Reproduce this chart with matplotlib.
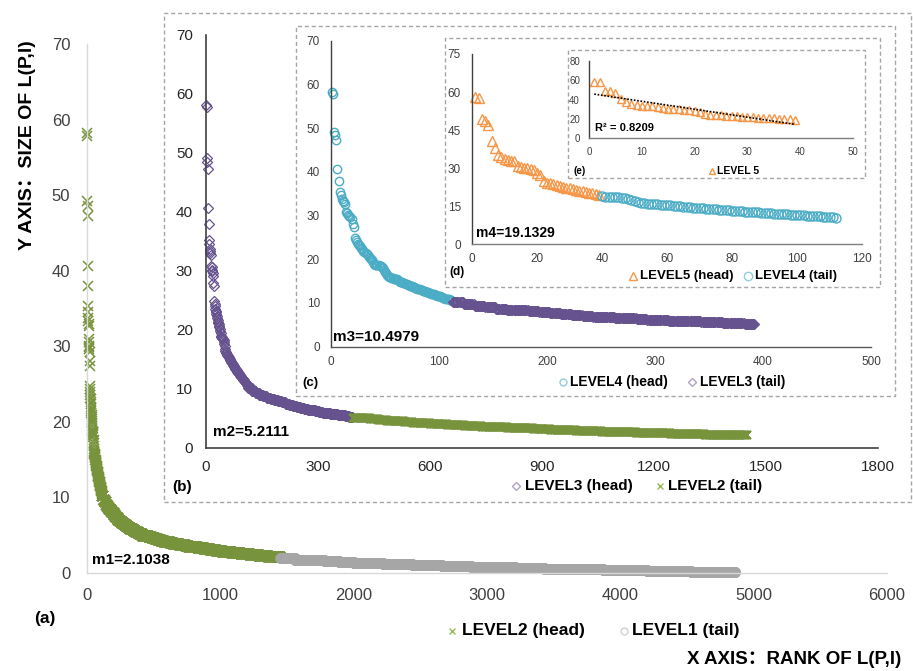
import numpy as np
import matplotlib
matplotlib.use("Agg")
import matplotlib.pyplot as plt
from matplotlib.patches import Rectangle
from matplotlib.lines import Line2D

plt.rcParams['font.family'] = ['Liberation Sans', 'Noto Sans CJK SC', 'DejaVu Sans']

# ---- data: sizes of L(P,l) in rank order ----
# ranks 1-39 (level 5 head), one value per rank
level5_head = [58.2, 57.8, 49.2, 48.5, 47.2, 40.6, 38.0, 35.3, 34.6, 33.7,
               33.3, 33.0, 32.7, 30.9, 30.6, 30.1, 29.9, 29.6, 29.2, 28.0,
               27.4, 24.8, 24.3, 24.0, 23.6, 23.2, 23.0, 22.6, 22.3, 22.0,
               21.7, 21.4, 21.2, 20.9, 20.6, 20.4, 20.1, 19.8, 19.4]
# ranks 40-112 (level 4 tail), one value per rank
level4_tail = [19.0, 18.8, 18.7, 18.6, 18.6, 18.5, 18.4, 18.3, 18.0, 17.6,
               17.2, 16.8, 16.4, 16.2, 16.0, 15.9, 15.8, 15.7, 15.6, 15.6,
               15.5, 15.4, 15.2, 15.0, 14.9, 14.8, 14.7, 14.6, 14.5, 14.4,
               14.3, 14.2, 14.1, 14.0, 13.9, 13.8, 13.7, 13.6, 13.5, 13.4,
               13.3, 13.2, 13.1, 13.0, 12.9, 12.8, 12.7, 12.7, 12.6, 12.5,
               12.4, 12.3, 12.2, 12.1, 12.0, 12.0, 11.9, 11.8, 11.7, 11.6,
               11.5, 11.5, 11.4, 11.3, 11.2, 11.1, 11.0, 11.0, 10.9, 10.8,
               10.7, 10.6, 10.5]
# ranks 113-392 (level 3 tail), one value per block of 10 ranks
level3_block = 10
level3_tail = [10.15, 9.7, 9.35, 9.0, 8.7, 8.45, 8.3, 8.1, 7.95, 7.7,
               7.45, 7.25, 7.05, 6.9, 6.75, 6.6, 6.47, 6.35, 6.22, 6.1,
               5.97, 5.87, 5.77, 5.67, 5.57, 5.47, 5.36, 5.25]
# ranks 393-1450 (level 2 tail), one value per block of 23 ranks
level2_block = 23
level2_tail = [5.11, 4.96, 4.83, 4.71, 4.58, 4.46, 4.34, 4.23, 4.13, 4.04,
               3.95, 3.87, 3.79, 3.71, 3.64, 3.57, 3.50, 3.44, 3.38, 3.32,
               3.27, 3.20, 3.14, 3.07, 3.01, 2.95, 2.90, 2.84, 2.78, 2.73,
               2.68, 2.64, 2.60, 2.55, 2.51, 2.47, 2.43, 2.38, 2.34, 2.30,
               2.26, 2.22, 2.18, 2.15, 2.11, 2.07]
# ranks 1451-4860 (level 1 tail), one value per block of 110 ranks
level1_block = 110
level1_tail = [1.96, 1.78, 1.66, 1.56, 1.45, 1.36, 1.29, 1.22, 1.15, 1.08,
               1.01, 0.95, 0.89, 0.83, 0.78, 0.73, 0.68, 0.63, 0.59, 0.55,
               0.51, 0.47, 0.43, 0.39, 0.34, 0.30, 0.25, 0.21, 0.18, 0.15,
               0.12]

means = {'a': 'm1=2.1038', 'b': 'm2=5.2111', 'c': 'm3=10.4979', 'd': 'm4=19.1329'}
r2_text = 'R² = 0.8209'

sizes = np.concatenate([
    level5_head, level4_tail,
    np.repeat(level3_tail, level3_block),
    np.repeat(level2_tail, level2_block),
    np.repeat(level1_tail, level1_block)])
rank = np.arange(1, len(sizes) + 1)
n5 = len(level5_head)
n4 = n5 + len(level4_tail)
n3 = n4 + len(level3_tail) * level3_block
n2 = n3 + len(level2_tail) * level2_block

GREEN = '#77933C'
GRAY = '#A6A6A6'
PURPLE = '#66528F'
CYAN = '#4BACC6'
ORANGE = '#F79646'

W, H = 913, 671
fig = plt.figure(figsize=(W / 100, H / 100), dpi=100)


def make_axes(left, right, bottom, top, z):
    ax = fig.add_axes([left / W, 1 - bottom / H, (right - left) / W, (bottom - top) / H])
    ax.set_zorder(z)
    ax.patch.set_visible(False)
    ax.spines['top'].set_visible(False)
    ax.spines['right'].set_visible(False)
    return ax


def style(ax, xt, yt, fs, color, pad_x, pad_y, left_c, bottom_c, lw=1.0):
    ax.set_xlim(xt[0], xt[-1])
    ax.set_ylim(yt[0], yt[-1])
    ax.set_xticks(xt)
    ax.set_yticks(yt)
    ax.tick_params(axis='x', length=0, pad=pad_x, labelsize=fs, labelcolor=color)
    ax.tick_params(axis='y', length=0, pad=pad_y, labelsize=fs, labelcolor=color)
    ax.spines['left'].set_color(left_c)
    ax.spines['bottom'].set_color(bottom_c)
    ax.spines['left'].set_linewidth(lw)
    ax.spines['bottom'].set_linewidth(lw)


def box(l, t, r, b, z):
    fig.add_artist(Rectangle((l / W, 1 - b / H), (r - l) / W, (b - t) / H,
                             transform=fig.transFigure, fc='white', ec='#A6A6A6',
                             lw=1, ls=(0, (3, 2)), zorder=z))


def ftext(x, y, s, fs, z, ha='left', **kw):
    fig.text(x / W, 1 - y / H, s, fontsize=fs, fontweight='bold', ha=ha,
             va='center', zorder=z, **kw)


def legend_item(xm, xt, y, marker, color, label, ms, fs, z):
    fig.add_artist(Line2D([xm / W], [1 - y / H], marker=marker, color=color,
                          mfc='none', ms=ms, mew=1, ls='none',
                          transform=fig.transFigure, zorder=z))
    ftext(xt, y, label, fs, z)


# ---- (a) whole data ----
ax_a = make_axes(87, 887, 573, 44, 1)
ax_a.plot(rank[:n2], sizes[:n2], ls='none', marker='x', ms=6.5, mew=1.1,
          color=GREEN, clip_on=False)
ax_a.plot(rank[n2:], sizes[n2:], ls='none', marker='o', ms=6.5, mew=1.1,
          mfc='none', color=GRAY, clip_on=False)
style(ax_a, list(range(0, 6001, 1000)), list(range(0, 71, 10)), 12, '#404040',
      11, 12, '#D9D9D9', '#D9D9D9')
ftext(92, 560, means['a'], 11, 1.5)
ftext(45, 618, '(a)', 12.5, 1.5, ha='center')
legend_item(452, 462, 631, 'x', '#9BBB59', 'LEVEL2 (head)', 5, 12.5, 1.5)
legend_item(624, 632, 631, 'o', '#D0D0D0', 'LEVEL1 (tail)', 5, 12.5, 1.5)
fig.text(28 / W, 1 - 145 / H, 'Y AXIS：SIZE OF L(P,l)', rotation=90, ha='center',
         va='center', fontsize=14, fontweight='bold', zorder=1.5)
ftext(687, 660, 'X AXIS：RANK OF L(P,l)', 13.5, 1.5)

# ---- (b) ranks 1-1450 ----
box(164, 13, 911, 502, 2)
ax_b = make_axes(206, 878, 447.7, 35, 3)
ax_b.plot(rank[:n3], sizes[:n3], ls='none', marker='D', ms=4.8, mew=0.9,
          mfc='none', color=PURPLE, clip_on=False)
ax_b.plot(rank[n3:n2], sizes[n3:n2], ls='none', marker='x', ms=5.5, mew=1.1,
          color=GREEN, clip_on=False)
style(ax_b, list(range(0, 1801, 300)), list(range(0, 71, 10)), 11, '#262626',
      9, 9.4, '#404040', '#404040', 1.2)
ftext(213, 432, means['b'], 11, 3.5)
ftext(182, 487, '(b)', 11, 3.5, ha='center')
legend_item(516, 525, 486, 'D', '#B3A2C7', 'LEVEL3 (head)', 4, 11, 3.5)
legend_item(660, 668, 486, 'x', '#9BBB59', 'LEVEL2 (tail)', 5, 11, 3.5)

# ---- (c) ranks 1-392 ----
box(296, 26, 895, 396, 4)
ax_c = make_axes(331, 871, 346.7, 40.7, 5)
ax_c.plot(rank[:n4], sizes[:n4], ls='none', marker='o', ms=6, mew=1,
          mfc='none', color=CYAN, clip_on=False)
ax_c.plot(rank[n4:n3], sizes[n4:n3], ls='none', marker='D', ms=4.8, mew=0.9,
          mfc='none', color=PURPLE, clip_on=False)
style(ax_c, list(range(0, 501, 100)), list(range(0, 71, 10)), 8.5, '#404040',
      6.5, 8, '#404040', '#595959')
ftext(333, 337, means['c'], 11, 5.5)
ftext(310, 383, '(c)', 9.5, 5.5, ha='center')
legend_item(563, 570, 382, 'o', '#92CDDC', 'LEVEL4 (head)', 5, 10, 5.5)
legend_item(692, 700, 382, 'D', '#B3A2C7', 'LEVEL3 (tail)', 4, 10, 5.5)

# ---- (d) ranks 1-112 ----
box(445, 38, 880, 287, 6)
ax_d = make_axes(472, 862, 244.3, 54, 7)
ax_d.plot(rank[:n5], sizes[:n5], ls='none', marker='^', ms=6.5, mew=1,
          mfc='none', color=ORANGE, clip_on=False)
ax_d.plot(rank[n5:n4], sizes[n5:n4], ls='none', marker='o', ms=6.5, mew=1,
          mfc='none', color=CYAN, clip_on=False)
style(ax_d, list(range(0, 121, 20)), list(range(0, 76, 15)), 8.5, '#404040',
      6.5, 8, '#404040', '#7F7F7F')
ftext(476, 233, means['d'], 10, 7.5)
ftext(457, 272, '(d)', 8.5, 7.5, ha='center')
legend_item(633, 640, 276, '^', ORANGE, 'LEVEL5 (head)', 6, 9.5, 7.5)
legend_item(748, 755, 276, 'o', '#92CDDC', 'LEVEL4 (tail)', 6, 9.5, 7.5)

# ---- (e) ranks 1-39 with linear trend ----
box(568, 50, 865, 178, 8)
ax_e = make_axes(589, 853, 138.3, 61, 9)
ax_e.plot(rank[:n5], sizes[:n5], ls='none', marker='^', ms=5.5, mew=1,
          mfc='none', color=ORANGE, clip_on=False)
k, c0 = np.polyfit(rank[:n5], sizes[:n5], 1)
xf = np.array([rank[0], rank[n5 - 1]])
ax_e.plot(xf, k * xf + c0, color='black', ls=(0, (1, 1)), lw=1.2)
style(ax_e, list(range(0, 51, 10)), list(range(0, 81, 20)), 7, '#404040',
      6.5, 6.5, '#404040', '#7F7F7F')
ftext(595, 128, r2_text, 8, 9.5)
ftext(580, 171, '(e)', 7, 9.5, ha='center')
legend_item(712, 717, 171, '^', ORANGE, 'LEVEL 5', 5, 7.5, 9.5)

fig.savefig('out.png', dpi=100)
